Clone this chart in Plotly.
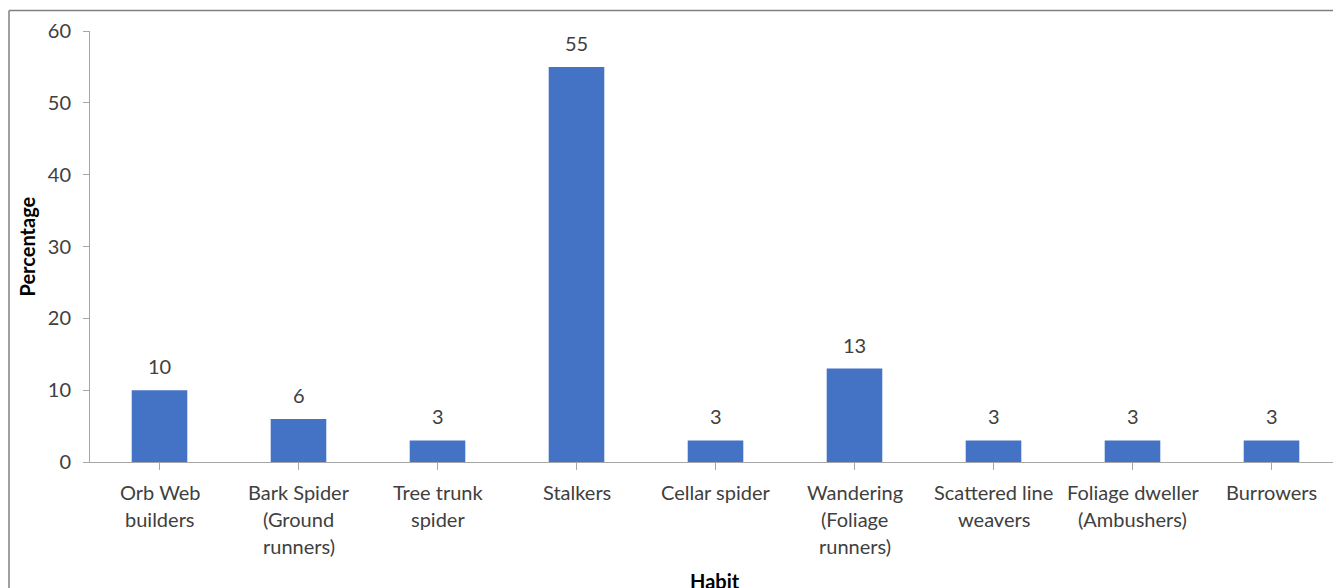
import plotly.graph_objects as go

# Spider guild composition by habit
categories = [
    "Orb Web<br>builders",
    "Bark Spider<br>(Ground<br>runners)",
    "Tree trunk<br>spider",
    "Stalkers",
    "Cellar spider",
    "Wandering<br>(Foliage<br>runners)",
    "Scattered line<br>weavers",
    "Foliage dweller<br>(Ambushers)",
    "Burrowers",
]
percentages = [10, 6, 3, 55, 3, 13, 3, 3, 3]
y_ticks = [0, 10, 20, 30, 40, 50, 60]

W, H = 1333, 588
L, T, B = 90, 31, 126
plot_w = W - L
plot_h = H - T - B
cat_px = 139.0  # width of one category slot in pixels

FONT = "Lato"
TXT = "#404040"
AX = "#a6a6a6"
FS = 20

x_idx = list(range(len(categories)))

fig = go.Figure(
    go.Bar(
        x=x_idx,
        y=percentages,
        width=0.4,
        marker=dict(color="#4472C4", line=dict(width=0)),
        hoverinfo="x+y",
    )
)

annotations = []
# value labels above each bar
for xi, v in zip(x_idx, percentages):
    annotations.append(dict(
        x=xi, y=v, xref="x", yref="y", text=str(v), showarrow=False,
        yanchor="middle", yshift=24, font=dict(family=FONT, size=FS, color=TXT),
    ))
# multi-line category labels under the axis
for xi, name in zip(x_idx, categories):
    for j, line in enumerate(name.split("<br>")):
        annotations.append(dict(
            x=xi, y=0, xref="x", yref="y", text=line, showarrow=False,
            yanchor="middle", yshift=-30 - 27 * j,
            font=dict(family=FONT, size=FS, color=TXT),
        ))
# axis titles
annotations.append(dict(
    x=(715 - L) / plot_w, y=(H - B - 581) / plot_h, xref="paper", yref="paper",
    text="<b>Habit</b>", showarrow=False, yanchor="middle", xanchor="center",
    font=dict(family=FONT, size=FS, color="#000000"),
))
annotations.append(dict(
    x=(26 - L) / plot_w, y=0.5, xref="paper", yref="paper",
    text="<b>Percentage</b>", showarrow=False, textangle=-90,
    xanchor="center", yanchor="middle",
    font=dict(family=FONT, size=FS, color="#000000"),
))

# chart frame (top and left edges visible)
fx = (9 - L) / plot_w
fy = (H - B - 10.5) / plot_h
frame = dict(color="#7f7f7f", width=1.5)
fig.add_shape(type="line", xref="paper", yref="paper",
              x0=fx, x1=fx, y0=-0.5, y1=fy, line=frame)
fig.add_shape(type="line", xref="paper", yref="paper",
              x0=fx, x1=1.0, y0=fy, y1=fy, line=frame)

fig.update_layout(
    width=W, height=H,
    margin=dict(l=L, r=0, t=T, b=B, pad=0),
    paper_bgcolor="white", plot_bgcolor="white",
    showlegend=False,
    annotations=annotations,
    xaxis=dict(
        range=[-0.5, -0.5 + plot_w / cat_px],
        tickmode="array", tickvals=x_idx, ticktext=[""] * len(x_idx),
        tickson="boundaries", ticks="outside", ticklen=7, tickcolor=AX,
        showline=True, linecolor=AX, linewidth=1,
        showgrid=False, zeroline=False, fixedrange=True,
    ),
    yaxis=dict(
        range=[0, 60], tickvals=y_ticks,
        ticks="outside", ticklen=6, tickcolor=AX,
        ticklabelstandoff=8,
        showline=True, linecolor=AX, linewidth=1,
        showgrid=False, zeroline=False,
        tickfont=dict(family=FONT, size=FS, color=TXT),
    ),
)

fig.write_html("out.html")
